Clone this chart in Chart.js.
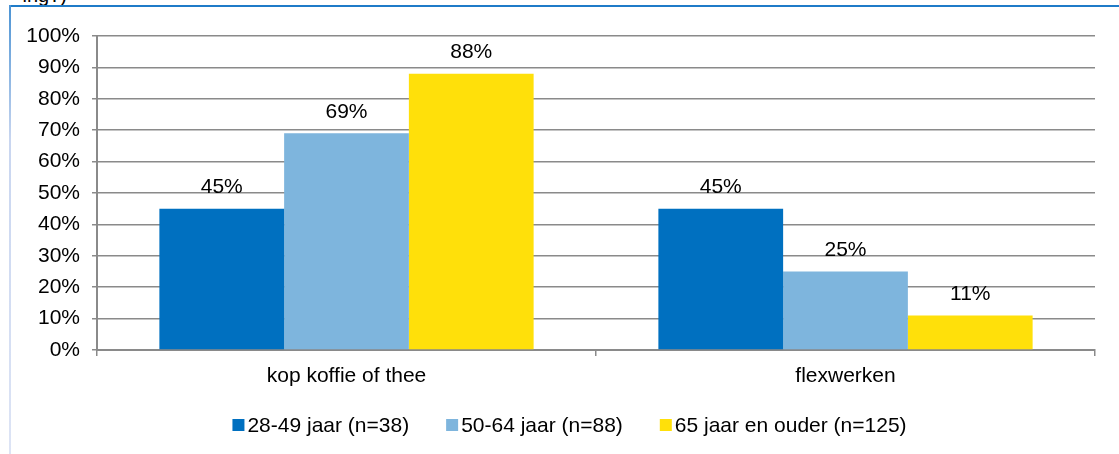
<!DOCTYPE html>
<html>
<head>
<meta charset="utf-8">
<script src="https://cdn.jsdelivr.net/npm/chart.js@4.4.0/dist/chart.umd.min.js"></script>
<style>
  html, body { margin: 0; padding: 0; background: #fff; overflow: hidden; }
  #wrap { position: relative; width: 1119px; height: 454px; overflow: hidden; }
  #chart { position: absolute; left: 0; top: 0; }
  .frameTop { position: absolute; left: 9px; top: 5px; width: 1110px; height: 2px; background: #1f7bc8; }
  .frameLeft { position: absolute; left: 9px; top: 5px; width: 2px; height: 449px;
    background: linear-gradient(#4a93d4, #c9d6f0 30%, #dde4f5); }
  .cut { position: absolute; right: 1052px; top: -16px; font: 20px "Liberation Sans", Arial, sans-serif; color: #000; }
</style>
</head>
<body>
<div id="wrap">
  <div class="cut">ing?)</div>
  <div class="frameTop"></div>
  <div class="frameLeft"></div>
  <canvas id="chart" width="1119" height="454"></canvas>
</div>
<script>
const categories = ['kop koffie of thee', 'flexwerken'];
const groupLabels = ['28-49 jaar (n=38)', '50-64 jaar (n=88)', '65 jaar en ouder (n=125)'];
const age2849 = [45, 45];
const age5064 = [69, 25];
const age65plus = [88, 11];
const colors = ['#0070c0', '#7eb5dd', '#ffe00a'];
const yTicks = [0, 10, 20, 30, 40, 50, 60, 70, 80, 90, 100];

const fontFamily = '"Liberation Sans", Arial, sans-serif';
const fontSize = 21;

// percentage labels above each bar
const barLabels = {
    id: 'barLabels',
    afterDatasetsDraw(chart) {
        const ctx = chart.ctx;
        ctx.save();
        ctx.font = fontSize + 'px ' + fontFamily;
        ctx.fillStyle = '#000';
        ctx.textAlign = 'center';
        ctx.textBaseline = 'middle';
        chart.data.datasets.forEach((ds, i) => {
            chart.getDatasetMeta(i).data.forEach((bar, j) => {
                ctx.fillText(ds.data[j] + '%', bar.x, bar.y - 21);
            });
        });
        ctx.restore();
    }
};

// legend like the office one: small square, tight gap to text
const bottomLegend = {
    id: 'bottomLegend',
    afterDraw(chart) {
        const ctx = chart.ctx;
        const box = 12, gap = 3, spacing = 37;
        ctx.save();
        ctx.font = fontSize + 'px ' + fontFamily;
        ctx.textBaseline = 'middle';
        ctx.textAlign = 'left';
        const items = chart.data.datasets.map(ds => ({
            text: ds.label, color: ds.backgroundColor, w: box + gap + ctx.measureText(ds.label).width
        }));
        const total = items.reduce((s, it) => s + it.w, 0) + spacing * (items.length - 1);
        let x = chart.width / 2 + 10 - total / 2;
        const y = 425;
        items.forEach(it => {
            ctx.fillStyle = it.color;
            ctx.fillRect(x, y - box / 2, box, box);
            ctx.fillStyle = '#000';
            ctx.fillText(it.text, x + box + gap, y + 1);
            x += it.w + spacing;
        });
        ctx.restore();
    }
};

const data = {
    labels: categories,
    datasets: [
        { label: groupLabels[0], data: age2849, backgroundColor: colors[0] },
        { label: groupLabels[1], data: age5064, backgroundColor: colors[1] },
        { label: groupLabels[2], data: age65plus, backgroundColor: colors[2] }
    ]
};

const config = {
    type: 'bar',
    data: data,
    plugins: [barLabels, bottomLegend],
    options: {
        responsive: false,
        animation: false,
        layout: { padding: { top: 36, right: 24, left: 0, bottom: 0 } },
        categoryPercentage: 0.75,
        barPercentage: 1.0,
        scales: {
            x: {
                grid: { display: true, drawOnChartArea: false, drawTicks: true, tickLength: 6, offset: true, color: '#8a8a8a', lineWidth: 1.5 },
                border: { color: '#8a8a8a', width: 2 },
                ticks: { color: '#000', font: { family: fontFamily, size: fontSize }, padding: 8 },
                afterFit(scale) { scale.height = 104; }
            },
            y: {
                min: 0,
                max: 100,
                afterBuildTicks(scale) { scale.ticks = yTicks.map(v => ({ value: v })); },
                grid: { color: '#8a8a8a', lineWidth: 1.5, drawTicks: true, tickLength: 5 },
                border: { color: '#8a8a8a', width: 2 },
                ticks: { color: '#000', font: { family: fontFamily, size: fontSize }, padding: 12, callback: v => v + '%' },
                afterFit(scale) { scale.width = 97; }
            }
        },
        plugins: {
            legend: { display: false },
            tooltip: { enabled: false }
        }
    }
};

new Chart(document.getElementById('chart'), config);
</script>
</body>
</html>
